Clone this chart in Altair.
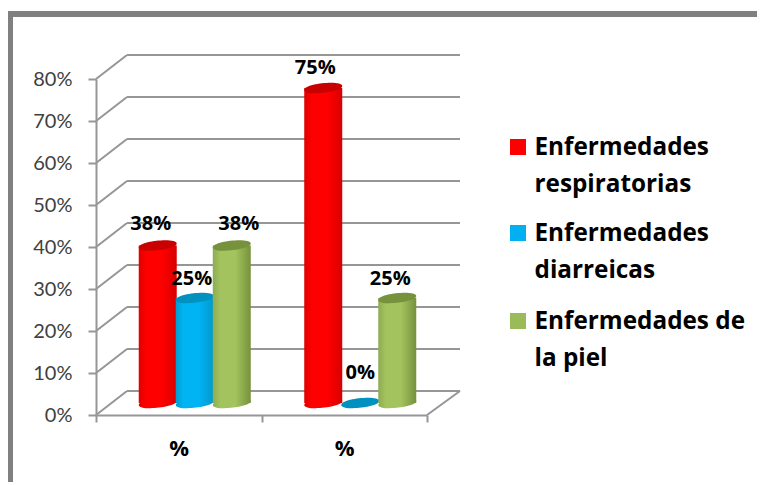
import altair as alt
import pandas as pd

groups = ["%", "% "]
series = ["Enfermedades respiratorias", "Enfermedades diarreicas", "Enfermedades de la piel"]
legend_lines = ["Enfermedades|respiratorias", "Enfermedades|diarreicas", "Enfermedades de|la piel"]
respiratorias = [0.375, 0.75]
diarreicas = [0.25, 0.0]
piel = [0.375, 0.25]
axis_ticks = [0, .1, .2, .3, .4, .5, .6, .7, .8]

# styling (not data)
GRID = "#969696"
W, H = 331, 336
DX, DY = 33, 24           # depth of the 3D box
MX, MY = 16, 12           # the cylinders stand mid-depth
FONT = "Lato"
BOLD = "Open Sans"
palette = ["#ff0000", "#00b0f0", "#9bbb59"]
tops = ["#c80000", "#0091c0", "#76923c"]
LEG_X, LEG_TX = 422, 438.5
LEG_Y = [68, 154, 242]
def grad(a, b, c):
    return alt.Gradient(gradient="linear", x1=0, x2=1, y1=0, y2=0, stops=[
        alt.GradientStop(offset=0, color=a), alt.GradientStop(offset=.2, color=b),
        alt.GradientStop(offset=.6, color=b), alt.GradientStop(offset=1, color=c)])
fills = [grad("#e00000", "#ff0000", "#d80000"),
         grad("#009ccf", "#00b4f4", "#0099cc"),
         grad("#8eab52", "#a2c35e", "#76923c")]
# hand-placed data labels (dx, dy from the top of the cylinder)
nudges = [[(-7, -22), (-8, -20)], [(-3, -19), (0, -30)], [(7, -22), (-7, -19)]]

rows = []
for s, vals in zip(series, [respiratorias, diarreicas, piel]):
    for g, v in zip(groups, vals):
        rows.append({"group": g, "series": s, "value": v, "zero": 0})
df = pd.DataFrame(rows)
ticks = pd.DataFrame({"t": axis_ticks})

yscale = alt.Scale(domain=[0, 0.8], nice=False, zero=False)
xscale = alt.Scale(domain=groups, paddingInner=0, paddingOuter=0)
offscale = alt.Scale(domain=series, paddingInner=0, paddingOuter=0.736, range=[MX, W / 2 + MX])
Y = alt.Y("t:Q", scale=yscale, title=None,
          axis=alt.Axis(values=axis_ticks, format=".0%", grid=False, domainColor=GRID, domainWidth=2,
                        tickColor=GRID, tickWidth=2, tickSize=8, labelPadding=16, labelFont=FONT,
                        labelFontSize=20, labelColor="#404040"))
X = alt.X("group:N", scale=xscale, title=None, sort=groups,
          axis=alt.Axis(tickBand="extent", labelAngle=0, domainColor=GRID, domainWidth=2, tickColor=GRID,
                        tickWidth=2, tickSize=7, labelPadding=16, labelFont=BOLD, labelFontSize=22,
                        labelFontWeight="bold", labelColor="#000000"))
VY = alt.Y("value:Q", scale=yscale, title=None)
XO = alt.XOffset("series:N", scale=offscale, sort=series)

layers = []
# outer frame of the picture
frame = pd.DataFrame({"a": [0]})
layers.append(alt.Chart(frame).mark_rule(color="#808080", strokeWidth=6).encode(
    x=alt.value(-86), y=alt.value(-68), y2=alt.value(420)))
layers.append(alt.Chart(frame).mark_rule(color="#808080", strokeWidth=6).encode(
    x=alt.value(-89), x2=alt.value(700), y=alt.value(-65)))
# walls
layers.append(alt.Chart(ticks).mark_rule(color=GRID, strokeWidth=2, yOffset=-DY).encode(
    x=alt.value(31), x2=alt.value(W + DX), y=Y))
layers.append(alt.Chart(ticks).mark_rule(color=GRID, strokeWidth=2, y2Offset=-DY).encode(
    x=alt.value(0), x2=alt.value(31), y=Y, y2=alt.Y2("t:Q")))
layers.append(alt.Chart(ticks[ticks.t == 0]).mark_rule(color=GRID, strokeWidth=2, y2Offset=-DY).encode(
    x=alt.value(W), x2=alt.value(W + DX), y=alt.Y("t:Q", scale=yscale, title=None), y2=alt.Y2("t:Q")))
# x axis carrier
layers.append(alt.Chart(df).mark_point(opacity=0).encode(x=X, y=VY))

ELL = "M-1,0.1 C-1,-0.24 1,-0.44 1,-0.1 C1,0.24 -1,0.44 -1,0.1 Z"
for i, s in enumerate(series):
    d = df[(df.series == s)]
    body = d[d.value > 0]
    layers.append(alt.Chart(body).mark_point(shape=ELL, size=1444, filled=True, fill=fills[i], opacity=1,
                                             strokeWidth=0, yOffset=-MY).encode(
        x=X, xOffset=XO, y=alt.Y("zero:Q", scale=yscale, title=None)))
    layers.append(alt.Chart(body).mark_bar(width=38, fill=fills[i], yOffset=-MY, y2Offset=-MY).encode(
        x=X, xOffset=XO, y=VY, y2=alt.Y2("zero:Q")))
    layers.append(alt.Chart(d).mark_point(shape=ELL, size=1444, filled=True, fill=tops[i], opacity=1,
                                          strokeWidth=0, yOffset=-MY).encode(
        x=X, xOffset=XO, y=VY))
for i, s in enumerate(series):
    for j, g in enumerate(groups):
        d = df[(df.series == s) & (df.group == g)]
        layers.append(alt.Chart(d).mark_text(font=BOLD, fontSize=20, fontWeight="bold", color="#000000",
                                             dx=nudges[i][j][0], dy=-MY + nudges[i][j][1]).encode(
            x=X, xOffset=XO, y=VY, text=alt.Text("value:Q", format=".0%")))
# legend, drawn by hand because its labels need a wide line spacing
leg = pd.DataFrame({"series": series, "label": legend_lines})
for i, s in enumerate(series):
    d = leg[leg.series == s]
    layers.append(alt.Chart(d).mark_point(shape="square", size=256, filled=True, opacity=1, strokeWidth=0).encode(
        x=alt.value(LEG_X), y=alt.value(LEG_Y[i]),
        fill=alt.Fill("series:N", scale=alt.Scale(domain=series, range=palette), legend=None)))
    layers.append(alt.Chart(d).mark_text(font=BOLD, fontSize=24.3, fontWeight="bold", color="#000000", align="left",
                                         baseline="top", lineBreak="|", lineHeight=37).encode(
        x=alt.value(LEG_TX), y=alt.value(LEG_Y[i] - 11), text="label:N"))

chart = alt.layer(*layers).properties(
    width=W, height=H, padding={"left": 88, "top": 71, "right": 330, "bottom": 67},
    autosize=alt.AutoSizeParams(type="none"), background="#ffffff"
).configure_view(stroke=None)
chart.save("out.html", embed_options={"renderer": "svg", "actions": False})
